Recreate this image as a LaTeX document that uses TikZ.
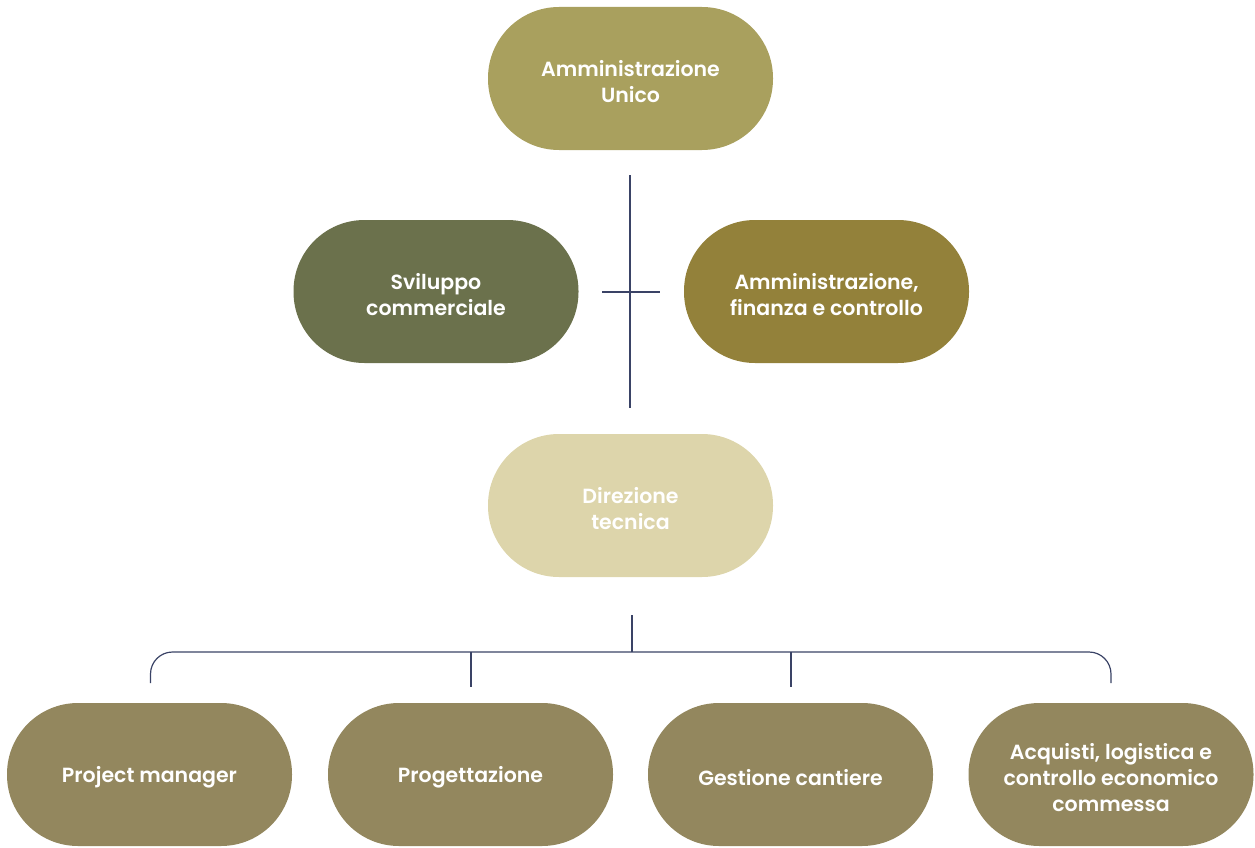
\documentclass[tikz,border=0pt]{standalone}
\usepackage{fontspec}
\setmainfont{Poppins}[BoldFont={Poppins SemiBold}]
\definecolor{ctop}{HTML}{A9A05E}
\definecolor{csvil}{HTML}{6B714C}
\definecolor{cfin}{HTML}{93813A}
\definecolor{cdir}{HTML}{DDD5AB}
\definecolor{cbot}{HTML}{93875E}
\definecolor{cline}{HTML}{3A4366}
\begin{document}
\begin{tikzpicture}[x=1pt,y=-1pt,
  pill/.style={rectangle, rounded corners=71pt, minimum width=285pt, minimum height=143pt, inner sep=0pt},
  lbl/.style={text=white, align=center, font=\fontsize{20.5}{26}\selectfont\bfseries, inner sep=0pt, yshift=-3pt},
  conn/.style={draw=cline, line width=1.2pt}]
\useasboundingbox (0,0) rectangle (1255,848);
\node[pill, fill=ctop] (top) at (630.5,78.5) {};
\node[pill, fill=csvil] (svil) at (436,291.5) {};
\node[pill, fill=cfin] (fin) at (826.5,291.5) {};
\node[pill, fill=cdir] (dir) at (630.5,505.5) {};
\node[pill, fill=cbot] (pm) at (149.5,774.5) {};
\node[pill, fill=cbot] (prog) at (470.5,774.5) {};
\node[pill, fill=cbot] (gest) at (790.5,774.5) {};
\node[pill, fill=cbot] (acq) at (1111,774.5) {};
\node[lbl] (ttop) at (top) {Amministrazione\\Unico};
\node[lbl] (tsvil) at (svil) {Sviluppo\\commerciale};
\node[lbl] (tfin) at (fin) {Amministrazione,\\finanza e controllo};
\node[lbl] (tdir) at (dir) {Direzione\\tecnica};
\node[lbl] (tpm) at (pm) {Project manager};
\node[lbl] (tprog) at (prog) {Progettazione};
\node[lbl] (tgest) at (gest) {Gestione cantiere};
\node[lbl] (tacq) at (acq) {Acquisti, logistica e\\controllo economico\\commessa};
\coordinate (v1a) at (630,175);
\coordinate (v1b) at (630,408);
\coordinate (h1a) at (602,292);
\coordinate (h1b) at (660,292);
\coordinate (v2a) at (632,615);
\coordinate (v2b) at (632,652);
\coordinate (bl) at (150.5,683);
\coordinate (br) at (1111,683);
\coordinate (m1a) at (471,652);
\coordinate (m1b) at (471,687);
\coordinate (m2a) at (791,652);
\coordinate (m2b) at (791,687);
\draw[conn] (v1a) -- (v1b);
\draw[conn] (h1a) -- (h1b);
\draw[conn] (v2a) -- (v2b);
\draw[conn, rounded corners=22pt] (bl) |- (v2b) -| (br);
\draw[conn] (m1a) -- (m1b);
\draw[conn] (m2a) -- (m2b);
\end{tikzpicture}
\end{document}
